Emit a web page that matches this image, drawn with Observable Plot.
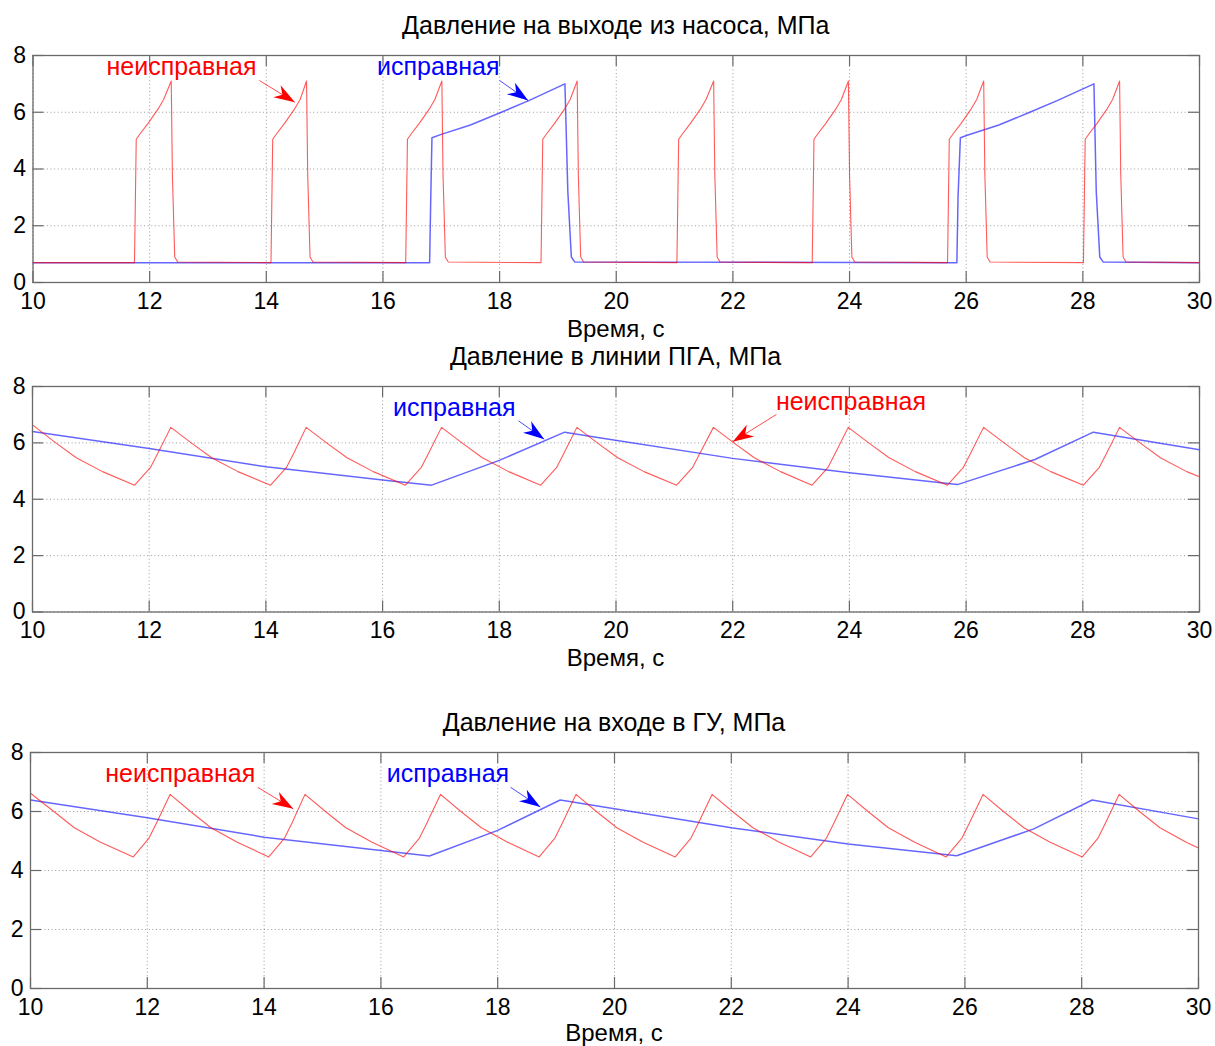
<!DOCTYPE html>
<html><head><meta charset="utf-8">
<script src="https://cdn.jsdelivr.net/npm/d3@7"></script>
<script src="https://cdn.jsdelivr.net/npm/@observablehq/plot@0.6"></script>
<style>
body{margin:0;background:#fff;font-family:"Liberation Sans",Arial,sans-serif;}
#root{position:relative;width:1215px;height:1046px;background:#fff;}
.t{position:absolute;font-size:24px;line-height:24px;text-align:center;white-space:nowrap;color:#000;}
.t.title{font-size:25px;}
.p{position:absolute;left:0;}
</style></head><body><div id="root"></div>
<script>
// ---------- ticks & labels ----------
const xTicks = [10, 12, 14, 16, 18, 20, 22, 24, 26, 28, 30];
const yTicks = [0, 2, 4, 6, 8];
const panelTitles = ["Давление на выходе из насоса, МПа", "Давление в линии ПГА, МПа", "Давление на входе в ГУ, МПа"];
const xLabel = "Время, с";
const seriesNames = {faulty: "неисправная", healthy: "исправная"};

// ---------- panel 1: pump outlet pressure ----------
const pumpFaultyT = [10, 11.74, 11.77, 11.84, 11.97, 12.14, 12.24, 12.37, 12.39, 12.43, 12.48,
  14.08, 14.11, 14.18, 14.31, 14.48, 14.58, 14.69, 14.71, 14.75, 14.80,
  16.39, 16.42, 16.49, 16.62, 16.79, 16.89, 17.01, 17.03, 17.07, 17.12,
  18.71, 18.74, 18.81, 18.94, 19.11, 19.21, 19.33, 19.35, 19.39, 19.44,
  21.04, 21.07, 21.14, 21.27, 21.44, 21.54, 21.67, 21.69, 21.73, 21.78,
  23.36, 23.39, 23.46, 23.59, 23.76, 23.86, 23.98, 24.00, 24.04, 24.09,
  25.68, 25.71, 25.78, 25.91, 26.08, 26.18, 26.30, 26.32, 26.36, 26.41,
  28.01, 28.04, 28.11, 28.24, 28.41, 28.51, 28.63, 28.65, 28.69, 28.74, 30];
const pumpFaultyV = [0.7, 0.7, 5.05, 5.25, 5.6, 6.1, 6.45, 7.1, 3.8, 0.9, 0.72,
  0.7, 5.05, 5.25, 5.6, 6.1, 6.45, 7.1, 3.8, 0.9, 0.72,
  0.7, 5.05, 5.25, 5.6, 6.1, 6.45, 7.1, 3.8, 0.9, 0.72,
  0.7, 5.05, 5.25, 5.6, 6.1, 6.45, 7.1, 3.8, 0.9, 0.72,
  0.7, 5.05, 5.25, 5.6, 6.1, 6.45, 7.1, 3.8, 0.9, 0.72,
  0.7, 5.05, 5.25, 5.6, 6.1, 6.45, 7.1, 3.8, 0.9, 0.72,
  0.7, 5.05, 5.25, 5.6, 6.1, 6.45, 7.1, 3.8, 0.9, 0.72,
  0.7, 5.05, 5.25, 5.6, 6.1, 6.45, 7.1, 3.8, 0.9, 0.72, 0.7];
const pumpHealthyT = [10, 16.80, 16.82, 16.84, 17.0, 17.5, 18.03, 18.5, 19.12, 19.17, 19.23, 19.29,
  25.84, 25.86, 25.90, 26.03, 26.56, 27.09, 27.56, 28.19, 28.23, 28.29, 28.35, 30];
const pumpHealthyV = [0.7, 0.7, 3.0, 5.1, 5.22, 5.55, 6.0, 6.41, 7.0, 3.2, 0.9, 0.72,
  0.7, 3.0, 5.1, 5.2, 5.55, 6.0, 6.41, 7.0, 3.2, 0.9, 0.72, 0.7];

// ---------- panel 2: ПГА line pressure ----------
const pgaFaultyT = [10.00, 10.40, 10.75, 11.20, 11.75, 12.02, 12.15, 12.37, 12.72, 13.07, 13.52,
  14.08, 14.35, 14.48, 14.69, 15.04, 15.39, 15.84, 16.39, 16.66, 16.79, 17.01, 17.36, 17.71, 18.16,
  18.71, 18.98, 19.11, 19.33, 19.68, 20.03, 20.48, 21.04, 21.31, 21.44, 21.67, 22.02, 22.37, 22.82,
  23.36, 23.63, 23.76, 23.98, 24.33, 24.68, 25.13, 25.68, 25.95, 26.08, 26.30, 26.65, 27.00, 27.45,
  28.01, 28.28, 28.41, 28.63, 28.98, 29.33, 29.78, 30.00];
const pgaFaultyV = [6.64, 6.00, 5.47, 4.98, 4.50, 5.12, 5.64, 6.55, 6.00, 5.47, 4.98,
  4.50, 5.12, 5.64, 6.55, 6.00, 5.47, 4.98, 4.50, 5.12, 5.64, 6.55, 6.00, 5.47, 4.98,
  4.50, 5.12, 5.64, 6.55, 6.00, 5.47, 4.98, 4.50, 5.12, 5.64, 6.55, 6.00, 5.47, 4.98,
  4.50, 5.12, 5.64, 6.55, 6.00, 5.47, 4.98, 4.50, 5.12, 5.64, 6.55, 6.00, 5.47, 4.98,
  4.50, 5.12, 5.64, 6.55, 6.00, 5.47, 4.98, 4.80];
const pgaHealthyT = [10, 12, 14, 16, 16.84, 18.0, 19.12, 19.74, 22, 24, 25.85, 27.18, 28.18, 30];
const pgaHealthyV = [6.40, 5.80, 5.15, 4.68, 4.50, 5.38, 6.38, 6.17, 5.45, 4.94, 4.52, 5.41, 6.38, 5.76];

// ---------- panel 3: ГУ inlet pressure ----------
const guFaultyT = [10.00, 10.40, 10.75, 11.20, 11.76, 12.03, 12.16, 12.39, 12.74, 13.09, 13.54,
  14.08, 14.35, 14.48, 14.70, 15.05, 15.40, 15.85, 16.39, 16.66, 16.79, 17.02, 17.37, 17.72, 18.17,
  18.71, 18.98, 19.11, 19.34, 19.69, 20.04, 20.49, 21.04, 21.31, 21.44, 21.67, 22.02, 22.37, 22.82,
  23.36, 23.63, 23.76, 23.99, 24.34, 24.69, 25.14, 25.68, 25.95, 26.08, 26.31, 26.66, 27.01, 27.46,
  28.01, 28.28, 28.41, 28.64, 28.99, 29.34, 29.79, 30.00];
const guFaultyV = [6.62, 6.00, 5.45, 4.96, 4.46, 5.10, 5.62, 6.58, 6.00, 5.45, 4.96,
  4.46, 5.10, 5.62, 6.58, 6.00, 5.45, 4.96, 4.46, 5.10, 5.62, 6.58, 6.00, 5.45, 4.96,
  4.46, 5.10, 5.62, 6.58, 6.00, 5.45, 4.96, 4.46, 5.10, 5.62, 6.58, 6.00, 5.45, 4.96,
  4.46, 5.10, 5.62, 6.58, 6.00, 5.45, 4.96, 4.46, 5.10, 5.62, 6.58, 6.00, 5.45, 4.96,
  4.46, 5.10, 5.62, 6.58, 6.00, 5.45, 4.96, 4.76];
const guHealthyT = [10, 12, 14, 16, 16.83, 18.0, 19.07, 20, 22, 24, 25.86, 27.18, 28.18, 30];
const guHealthyV = [6.39, 5.79, 5.13, 4.68, 4.49, 5.36, 6.39, 6.09, 5.45, 4.90, 4.50, 5.41, 6.39, 5.75];

// ---------- annotations (label anchor, arrow tail, arrow tip; data units) ----------
const pumpNotes = [
  {kind: "faulty",  x: 11.26, y: 7.30, x1: 13.88, y1: 7.12, x2: 14.49, y2: 6.35},
  {kind: "healthy", x: 15.90, y: 7.30, x1: 18.00, y1: 7.12, x2: 18.49, y2: 6.41}
];
const pgaNotes = [
  {kind: "healthy", x: 16.18, y: 6.94, x1: 18.33, y1: 6.78, x2: 18.77, y2: 6.13},
  {kind: "faulty",  x: 22.74, y: 7.15, x1: 22.75, y1: 7.01, x2: 22.00, y2: 6.04}
];
const guNotes = [
  {kind: "faulty",  x: 11.28, y: 6.99, x1: 13.89, y1: 6.82, x2: 14.50, y2: 6.09},
  {kind: "healthy", x: 16.10, y: 6.99, x1: 18.22, y1: 6.82, x2: 18.73, y2: 6.15}
];

// ---------- rendering ----------
const W = 1215;
const colors = {faulty: "#ff0000", healthy: "#0000ff"};
const zip = (T, V) => T.map((t, i) => ({t, v: V[i]}));
const chevron = {
  draw(ctx, l, r) {
    ctx.moveTo(0, -l);
    ctx.lineTo(-r, 0);
    ctx.lineTo(0, -l * 0.3);
    ctx.lineTo(r, 0);
    ctx.closePath();
  }
};

const panels = [
  {title: panelTitles[0], faulty: zip(pumpFaultyT, pumpFaultyV), healthy: zip(pumpHealthyT, pumpHealthyV), notes: pumpNotes,
   left: 32.5, right: 1199, frameTop: 55, frameBottom: 282, titleBase: 34, labelBase: 337},
  {title: panelTitles[1], faulty: zip(pgaFaultyT, pgaFaultyV), healthy: zip(pgaHealthyT, pgaHealthyV), notes: pgaNotes,
   left: 32, right: 1199, frameTop: 385.5, frameBottom: 611, titleBase: 365, labelBase: 666},
  {title: panelTitles[2], faulty: zip(guFaultyT, guFaultyV), healthy: zip(guHealthyT, guHealthyV), notes: guNotes,
   left: 30, right: 1198, frameTop: 752, frameBottom: 988, titleBase: 731, labelBase: 1041}
];

const root = document.getElementById("root");

for (const p of panels) {
  const top = p.frameTop - 12;
  const H = p.frameBottom - p.frameTop;
  const FW = p.right - p.left;
  const kx = FW / 20, ky = H / 8;
  const marks = [
    Plot.gridX(xTicks, {stroke: "#9a9a9a", strokeOpacity: 1, strokeDasharray: "1,2.6"}),
    Plot.gridY(yTicks, {stroke: "#9a9a9a", strokeOpacity: 1, strokeDasharray: "1,2.6"}),
    Plot.tickX(xTicks, {stroke: "#6a6a6a", strokeWidth: 1.2, insetTop: H - 11}),
    Plot.tickX(xTicks, {stroke: "#6a6a6a", strokeWidth: 1.2, insetBottom: H - 11}),
    Plot.tickY(yTicks, {stroke: "#6a6a6a", strokeWidth: 1.2, insetRight: FW - 11}),
    Plot.tickY(yTicks, {stroke: "#6a6a6a", strokeWidth: 1.2, insetLeft: FW - 11}),
    Plot.line(p.healthy, {x: "t", y: "v", stroke: colors.healthy, strokeWidth: 1.5, strokeOpacity: 0.6}),
    Plot.line(p.faulty, {x: "t", y: "v", stroke: colors.faulty, strokeWidth: 1.1, strokeOpacity: 0.65}),
    Plot.frame({stroke: "#6a6a6a", strokeWidth: 1.3}),
    Plot.axisX(xTicks, {tickSize: 0, tickPadding: 10, fontSize: 23, fill: "#000"}),
    Plot.axisY(yTicks, {tickSize: 0, tickPadding: 7, fontSize: 23, fill: "#000"})
  ];
  for (const n of p.notes) {
    const c = colors[n.kind];
    const rot = Math.atan2((n.x2 - n.x1) * kx, (n.y2 - n.y1) * ky) * 180 / Math.PI;
    marks.push(
      Plot.link([n], {x1: "x1", y1: "y1", x2: "x2", y2: "y2", stroke: c, strokeWidth: 1, strokeOpacity: 0.7}),
      Plot.vector([n], {x: "x2", y: "y2", rotate: rot, length: 21, r: 7, anchor: "end", shape: chevron, fill: c, stroke: "none"}),
      Plot.text([n], {x: "x", y: "y", text: () => seriesNames[n.kind], fill: c, textAnchor: "start", lineAnchor: "bottom", fontSize: 25})
    );
  }
  const chart = Plot.plot({
    width: W,
    height: (p.frameBottom - top) + 40,
    marginTop: p.frameTop - top,
    marginBottom: 40,
    marginLeft: p.left,
    marginRight: W - p.right,
    x: {domain: [10, 30]},
    y: {domain: [0, 8]},
    style: {fontFamily: "'Liberation Sans', Arial, sans-serif", fontSize: "23px", color: "#000", background: "transparent", overflow: "visible"},
    marks
  });
  const wrap = document.createElement("div");
  wrap.className = "p";
  wrap.style.top = top + "px";
  wrap.appendChild(chart);
  root.appendChild(wrap);

  const t = document.createElement("div");
  t.className = "t title";
  t.style.left = p.left + "px";
  t.style.width = FW + "px";
  t.style.top = (p.titleBase - 21.2) + "px";
  t.style.lineHeight = "25px";
  t.textContent = p.title;
  root.appendChild(t);

  const xl = document.createElement("div");
  xl.className = "t";
  xl.style.left = p.left + "px";
  xl.style.width = FW + "px";
  xl.style.top = (p.labelBase - 20.3) + "px";
  xl.textContent = xLabel;
  root.appendChild(xl);
}
</script>
</body></html>
